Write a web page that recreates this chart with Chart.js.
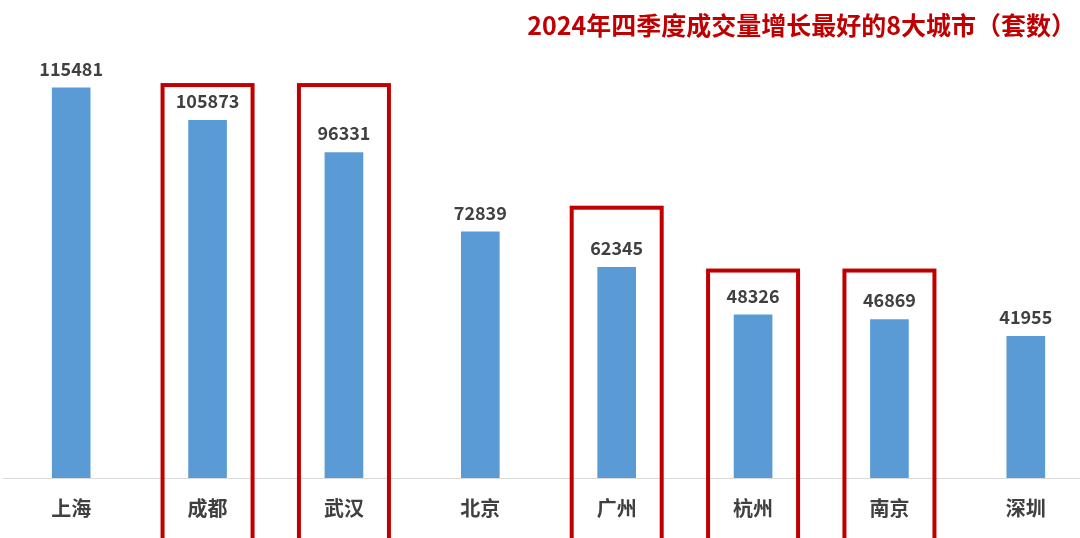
<!DOCTYPE html>
<html><head><meta charset="utf-8">
<script src="https://cdn.jsdelivr.net/npm/chart.js@4"></script>
<style>html,body{margin:0;background:#fff;overflow:hidden}#w{width:1094px;height:538px;position:relative}</style>
</head><body><div id="w"><canvas id="c"></canvas></div>
<script>
const categories=['上海','成都','武汉','北京','广州','杭州','南京','深圳'];
const values=[115481,105873,96331,72839,62345,48326,46869,41955];
const highlightTops=[null,116300,116300,null,80000,61400,61400,null];
const titleText='2024年四季度成交量增长最好的8大城市（套数）';
const deco={id:'deco',afterDatasetsDraw(ch){
  const ctx=ch.ctx,x=ch.scales.x,y=ch.scales.y,m=ch.getDatasetMeta(0);
  ctx.save();
  ctx.font='bold 18px "Noto Sans CJK SC", sans-serif';ctx.fillStyle='#404040';ctx.textAlign='center';ctx.textBaseline='bottom';
  m.data.forEach((b,i)=>ctx.fillText(values[i],b.x,b.y-10));
  ctx.strokeStyle='#c00000';ctx.lineWidth=4;
  highlightTops.forEach((t,i)=>{if(t==null)return;const cx=x.getPixelForValue(i);const ty=y.getPixelForValue(t);
    ctx.strokeRect(cx-45,ty,90,ch.height+10-ty);});
  ctx.fillStyle='#c00000';ctx.font='bold 25px "Noto Sans CJK SC", sans-serif';ctx.textAlign='right';ctx.textBaseline='middle';
  ctx.fillText(titleText,1076,25);
  ctx.restore();}};
new Chart(document.getElementById('c'),{type:'bar',
 data:{labels:categories,datasets:[{data:values,backgroundColor:'#5b9bd5',barThickness:38}]},
 options:{responsive:true,maintainAspectRatio:false,animation:false,
  layout:{padding:{left:3,right:0,top:5,bottom:0}},
  plugins:{legend:{display:false},tooltip:{enabled:false}},
  scales:{y:{display:false,min:0,max:140000},
   x:{grid:{display:false,drawTicks:false},border:{color:'#d9d9d9',width:1},
    ticks:{color:'#404040',padding:18,font:{size:20,weight:'bold',family:'"Noto Sans CJK SC", sans-serif'}}}}},
 plugins:[deco]});
</script></body></html>
